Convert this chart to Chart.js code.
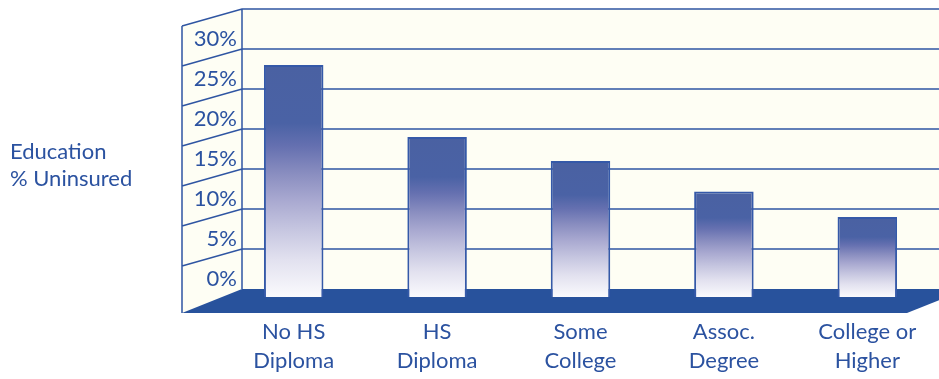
<!DOCTYPE html>
<html>
<head>
<meta charset="utf-8">
<script src="https://cdn.jsdelivr.net/npm/chart.js@4/dist/chart.umd.min.js"></script>
<style>
  html, body { margin: 0; padding: 0; background: #ffffff; }
  canvas { display: block; }
</style>
</head>
<body>
<canvas id="chart" width="939" height="379"></canvas>
<script>
// Uninsured share by level of education
const categories = [
  ['No HS', 'Diploma'],
  ['HS', 'Diploma'],
  ['Some', 'College'],
  ['Assoc.', 'Degree'],
  ['College or', 'Higher']
];
const uninsured = [29, 20, 17, 13.2, 10];
const tickValues = [0, 5, 10, 15, 20, 25, 30, 35];
const tickLabels = ['0%', '5%', '10%', '15%', '20%', '25%', '30%'];
const axisTitle = ['Education', '% Uninsured'];

const TEXT_BLUE = '#2B52A0';
const LINE_BLUE = '#2F55A2';
const FLOOR_BLUE = '#28529C';
const WALL = '#FEFEF4';
const BAR_EDGE = '#3559A8';

// oblique "3D" room: shift from the bar plane back to the wall, and side-wall depth
const BACK = { dx: 20, dy: 8 };
const SIDE = { dx: 60, dyWall: 17, dyFloor: 24 };

const roomPlugin = {
  id: 'room',
  beforeDraw(chart) {
    const { ctx, chartArea: a, scales: { y } } = chart;
    const W = chart.width;
    const bx = a.left + BACK.dx;
    const by = v => y.getPixelForValue(v) - BACK.dy;
    const top = by(tickValues[tickValues.length - 1]);
    const floor = by(0);
    const fx = bx - SIDE.dx;

    ctx.save();
    ctx.fillStyle = '#ffffff';
    ctx.fillRect(0, 0, W, chart.height);

    // back wall
    ctx.fillStyle = WALL;
    ctx.fillRect(bx, top, W - bx, floor - top);

    // side wall
    ctx.beginPath();
    ctx.moveTo(bx, top);
    ctx.lineTo(bx, floor);
    ctx.lineTo(fx, floor + SIDE.dyFloor);
    ctx.lineTo(fx, top + SIDE.dyWall);
    ctx.closePath();
    ctx.fill();

    // floor
    const rx = a.right + BACK.dx + BACK.dy;
    ctx.fillStyle = FLOOR_BLUE;
    ctx.beginPath();
    ctx.moveTo(bx, floor);
    ctx.lineTo(rx, floor);
    ctx.lineTo(rx - SIDE.dx, floor + SIDE.dyFloor);
    ctx.lineTo(fx, floor + SIDE.dyFloor);
    ctx.closePath();
    ctx.fill();

    // grid lines across side wall and back wall
    ctx.strokeStyle = LINE_BLUE;
    ctx.lineWidth = 1.5;
    ctx.beginPath();
    tickValues.forEach(v => {
      if (v === 0) return;
      const yy = by(v);
      ctx.moveTo(fx, yy + SIDE.dyWall);
      ctx.lineTo(bx, yy);
      ctx.lineTo(W, yy);
    });
    // wall edges
    ctx.moveTo(bx, top);
    ctx.lineTo(bx, floor);
    ctx.moveTo(fx, top + SIDE.dyWall);
    ctx.lineTo(fx, floor + SIDE.dyFloor);
    ctx.stroke();
    ctx.restore();
  },
  afterDraw(chart) {
    const { ctx } = chart;
    ctx.save();
    ctx.fillStyle = TEXT_BLUE;
    ctx.font = '22px Lato';
    ctx.textAlign = 'left';
    ctx.textBaseline = 'alphabetic';
    ctx.fillText(axisTitle[0], 10, 159);
    ctx.fillText(axisTitle[1], 10, 186);
    ctx.restore();
  }
};

function barGradient(context) {
  const chart = context.chart;
  const y = chart.scales.y;
  if (!chart.chartArea || !y) return '#4A61A2';
  const v = context.dataset.data[context.dataIndex];
  const t = y.getPixelForValue(v);
  const b = y.getPixelForValue(0);
  const g = chart.ctx.createLinearGradient(0, t, 0, b);
  g.addColorStop(0, '#4A61A2');
  g.addColorStop(0.25, '#4A62A5');
  g.addColorStop(0.35, '#6570B0');
  g.addColorStop(0.47, '#8A8EC0');
  g.addColorStop(0.58, '#A8A8D0');
  g.addColorStop(0.71, '#C6C6E0');
  g.addColorStop(0.84, '#E2E1EF');
  g.addColorStop(1, '#FAFAFD');
  return g;
}

new Chart(document.getElementById('chart'), {
  type: 'bar',
  data: {
    labels: categories,
    datasets: [{
      data: uninsured,
      backgroundColor: barGradient,
      borderColor: BAR_EDGE,
      borderWidth: { top: 2, left: 2, right: 2, bottom: 0 },
      borderSkipped: false,
      categoryPercentage: 1,
      barPercentage: 0.415
    }]
  },
  options: {
    responsive: false,
    devicePixelRatio: 1,
    animation: false,
    layout: { padding: { top: 17, right: 0, bottom: 0, left: 0 } },
    plugins: { legend: { display: false }, tooltip: { enabled: false } },
    scales: {
      x: {
        grid: { display: false, drawTicks: false },
        border: { display: false },
        ticks: {
          color: TEXT_BLUE,
          font: { family: 'Lato', size: 22, lineHeight: 1.32 },
          padding: 20,
          maxRotation: 0,
          autoSkip: false
        },
        afterFit(scale) { scale.height = 82; }
      },
      y: {
        min: 0,
        max: 35,
        grid: { display: false, drawTicks: false },
        border: { display: false },
        ticks: {
          stepSize: 5,
          color: TEXT_BLUE,
          font: { family: 'Lato', size: 22 },
          padding: -15,
          labelOffset: -18,
          callback: (value, index) => tickLabels[index] ?? ''
        },
        afterFit(scale) {
          scale.width = 222;
          // labels sit on the side wall, which reaches past the axis box
          scale._computeLabelArea = () => undefined;
        }
      }
    }
  },
  plugins: [roomPlugin]
});
</script>
</body>
</html>
